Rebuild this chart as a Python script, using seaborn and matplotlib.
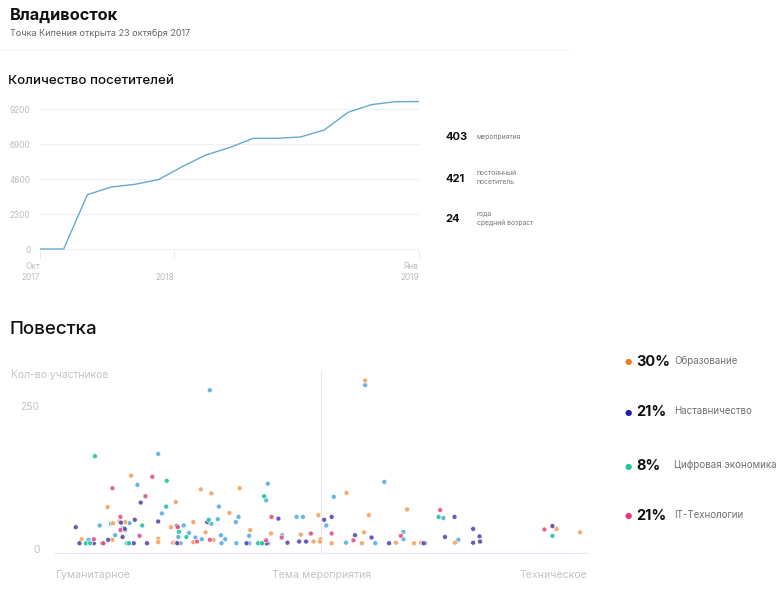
import matplotlib
matplotlib.use("Agg")
import matplotlib.pyplot as plt
from matplotlib.lines import Line2D
import pandas as pd
import seaborn as sns

# ---------------- data ----------------
month_index = list(range(17))
visitors = [0, 0, 3580, 4080, 4260, 4570, 5420, 6190, 6680, 7290, 7290, 7380,
            7840, 9000, 9510, 9700, 9710]
visit_yticks = [0, 2300, 4600, 6900, 9200]
visit_xtick_pos = [0, 5.65, 16]
visit_xtick_labels = ["Окт\n2017", "\n2018", "Янв\n2019"]

stat_values = ["403", "421", "24"]
stat_labels = ["мероприятия", "постоянный\nпосетитель", "года\nсредний возраст"]

categories = ["Образование", "Наставничество", "Цифровая экономика", "IT-Технологии"]
shares = ["30%", "21%", "8%", "21%"]

edu_x = [14.3, 9.9, 12.1, 10.9, 5.0, 10.8, 19.4, 19.4, 13.2, 27.4, 29.4, 34.7, 22.7,
         32.8, 26.0, 21.8, 28.3, 36.7, 29.8, 22.2, 22.7, 26.0, 54.8, 49.5, 59.0, 40.6,
         46.2, 58.1, 49.9, 48.6, 49.8, 52.0, 57.7, 66.2, 75.2, 64.1, 67.5, 68.8, 94.3,
         98.7, 58.3]
edu_y = [128, 73, 48, 45, 17, 16, 18, 12, 47, 104, 97, 106, 82, 63, 47, 38, 29, 33, 16,
         11, 11, 12, 98, 59, 59, 27, 25, 29, 17, 13, 13, 10, 10, 69, 11, 11, 10, 11, 35,
         29, 294]

ment_x = [16.1, 12.4, 15.0, 19.4, 3.9, 13.1, 12.7, 10.0, 4.6, 7.3, 8.9, 14.8, 17.3, 28.6,
          22.9, 23.0, 36.0, 42.0, 50.6, 52.0, 56.4, 39.8, 43.7, 45.9, 47.2, 75.1, 78.6,
          59.5, 73.3, 78.6, 62.8, 69.3, 79.8, 79.9, 93.5]
ment_y = [81, 46, 51, 48, 38, 35, 21, 16, 10, 10, 10, 10, 10, 47, 40, 10, 10, 53, 51, 56,
          24, 10, 11, 13, 13, 56, 35, 20, 21, 11, 10, 10, 22, 13, 40]

dig_x = [7.5, 16.4, 5.8, 6.6, 13.9, 21.0, 20.9, 28.9, 23.3, 24.7, 38.2, 38.9, 39.3, 72.1, 93.5]
dig_y = [162, 41, 10, 10, 10, 119, 74, 51, 30, 21, 10, 10, 92, 56, 23]

it_x = [18.3, 10.8, 17.0, 12.3, 12.3, 15.9, 7.3, 9.1, 23.1, 29.1, 26.7, 40.7, 42.6, 48.1,
        52.0, 39.7, 56.1, 72.4, 65.0, 92.0]
it_y = [126, 106, 92, 56, 33, 23, 17, 10, 38, 16, 13, 56, 20, 27, 27, 15, 15, 68, 23, 34]

oth_x = [19.4, 15.5, 14.0, 10.5, 8.4, 12.7, 13.2, 11.3, 6.3, 13.5, 14.1, 30.8, 20.1, 34.5,
         29.4, 30.6, 34.0, 24.2, 25.2, 36.5, 31.2, 23.2, 26.4, 27.6, 32.0, 23.6, 31.3,
         34.1, 36.5, 38.4, 40.0, 39.7, 52.4, 45.4, 46.6, 51.0, 42.7, 39.3, 40.1, 54.7,
         61.9, 73.0, 65.5, 65.5, 75.8, 60.2, 69.6, 29.1, 58.3]
oth_y = [166, 112, 45, 44, 41, 36, 33, 24, 16, 10, 10, 74, 62, 56, 44, 52, 47, 41, 28, 23,
         24, 21, 20, 17, 17, 10, 10, 10, 10, 10, 114, 85, 91, 56, 56, 41, 24, 10, 10, 11,
         117, 54, 30, 17, 16, 10, 10, 277, 286]

# ---------------- style ----------------
sns.set_style("white")
plt.rcParams["font.family"] = ["Inter", "DejaVu Sans"]

W, H = 780, 594
fig = plt.figure(figsize=(7.8, 5.94), dpi=100)


def fx(px):
    return px / W


def fy(py):
    return 1 - py / H


# ---------------- header ----------------
fig.text(fx(9.5), fy(15), "Владивосток", fontsize=11.8, fontweight="bold",
         color="#111111", va="center", ha="left")
fig.text(fx(10), fy(33.5), "Точка Кипения открыта 23 октября 2017", fontsize=6.5,
         color="#666666", va="center", ha="left")
fig.add_artist(Line2D([0, fx(570)], [fy(50), fy(50)], color="#f5f5f5", lw=0.8))

fig.text(fx(8), fy(81), "Количество посетителей", fontsize=9.6, fontweight="medium",
         color="#111111", va="center", ha="left")

# ---------------- line chart ----------------
ax1 = fig.add_axes([fx(40), fy(251.3), fx(419 - 40), (251.3 - 100.2) / H])
sns.lineplot(x=month_index, y=visitors, ax=ax1, color="#64aad0", linewidth=1.0)
ax1.set_xlim(0, 16)
ax1.set_ylim(-150, 9800)
ax1.set_yticks(visit_yticks)
ax1.set_yticklabels([str(v) for v in visit_yticks])
ax1.grid(axis="y", color="#eef0f8", lw=0.8)
ax1.grid(axis="x", visible=False)
ax1.set_axisbelow(True)
for s in ax1.spines.values():
    s.set_visible(False)
ax1.set_xticks(visit_xtick_pos)
ax1.set_xticklabels(visit_xtick_labels, ha="right")
ax1.tick_params(axis="x", length=5, width=0.8, color="#e6e8f2", labelsize=6,
                labelcolor="#bdbdbd", pad=3, direction="out", bottom=True)
ax1.tick_params(axis="y", length=0, labelsize=6, labelcolor="#bdbdbd", pad=7)
ax1.set_xlabel("")
ax1.set_ylabel("")

# ---------------- stats panel ----------------
stat_y = [137, 179, 219]
stat_lab_y = [137, 177.5, 218.5]
for v, lab, y, ly in zip(stat_values, stat_labels, stat_y, stat_lab_y):
    fig.text(fx(445), fy(y), v, fontsize=8, fontweight="bold", color="#111111",
             va="center", ha="left")
    fig.text(fx(476.5), fy(ly), lab, fontsize=4.9, color="#777777", va="center",
             ha="left", linespacing=1.5)

# ---------------- agenda ----------------
fig.text(fx(9.5), fy(329), "Повестка", fontsize=13.5, fontweight="medium",
         color="#111111", va="center", ha="left")
fig.text(fx(11), fy(375), "Кол-во участников", fontsize=7.5, color="#c4c4c4",
         va="center", ha="left")

frames = [
    pd.DataFrame({"pos": oth_x, "count": oth_y, "cat": "Другое"}),
    pd.DataFrame({"pos": edu_x, "count": edu_y, "cat": categories[0]}),
    pd.DataFrame({"pos": ment_x, "count": ment_y, "cat": categories[1]}),
    pd.DataFrame({"pos": dig_x, "count": dig_y, "cat": categories[2]}),
    pd.DataFrame({"pos": it_x, "count": it_y, "cat": categories[3]}),
]
df = pd.concat(frames, ignore_index=True)
point_palette = {
    "Другое": "#5aaee0",
    categories[0]: "#f5a262",
    categories[1]: "#5848b0",
    categories[2]: "#1fc4a0",
    categories[3]: "#e2508e",
}

ax2 = fig.add_axes([fx(55), fy(553), fx(587 - 55), (553 - 371) / H])
ax2.axvline(50, color="#e6e6f0", lw=0.8, zorder=0)
sns.scatterplot(data=df, x="pos", y="count", hue="cat", palette=point_palette, s=13,
                edgecolor="white", linewidth=0.5, alpha=0.9, legend=False, ax=ax2,
                zorder=3)
ax2.set_xlim(0, 100)
ax2.set_ylim(-7, 310.6)
for k, s in ax2.spines.items():
    s.set_visible(k == "bottom")
ax2.spines["bottom"].set_color("#e6e8f5")
ax2.spines["bottom"].set_linewidth(0.9)
ax2.set_xticks([])
ax2.set_yticks([0, 250])
ax2.set_yticklabels(["0", "250"])
ax2.tick_params(axis="y", length=0, labelsize=7.5, labelcolor="#c4c4c4", pad=11)
ax2.set_xlabel("")
ax2.set_ylabel("")

fig.text(fx(55), fy(574.5), "Гуманитарное", fontsize=7.6, color="#c4c4c4",
         va="center", ha="left")
fig.text(fx(321.5), fy(575), "Тема мероприятия", fontsize=7.6, color="#c4c4c4",
         va="center", ha="center")
fig.text(fx(587), fy(574.5), "Техническое", fontsize=7.6, color="#c4c4c4",
         va="center", ha="right")

# ---------------- legend ----------------
legend_colors = ["#f07d1c", "#1e1ea6", "#1ec8a0", "#e8357f"]
leg_y = [361.5, 412, 466, 515.5]
for c, sh, cat, y in zip(legend_colors, shares, categories, leg_y):
    fig.text(fx(627.7), fy(y), "●", fontsize=6, color=c, va="center", ha="center",
             family="DejaVu Sans")
    fig.text(fx(636.5), fy(y + 0.5), sh, fontsize=10.5, fontweight="bold",
             color="#111111", va="center", ha="left")
    fig.text(fx(674.5), fy(y - 0.5), cat, fontsize=7, color="#707070", va="center",
             ha="left")

fig.savefig("out.png", dpi=100, facecolor="white")
